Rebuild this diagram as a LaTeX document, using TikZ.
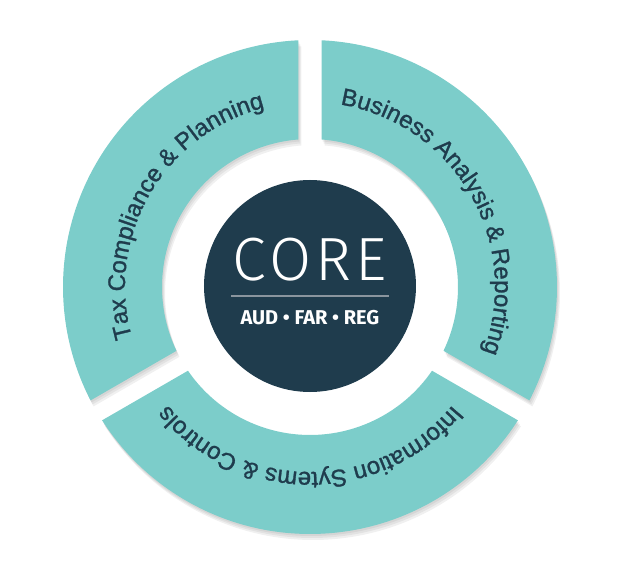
\documentclass[tikz,border=0pt]{standalone}
\usepackage{fontspec}
\setmainfont{Liberation Sans}
\newfontfamily\ringfont{Liberation Sans}[FakeBold=1.2]
\IfFontExistsTF{Fira Sans Light}
  {\newfontfamily\corefont{Fira Sans Light}[LetterSpace=7]}
  {\newfontfamily\corefont{Fira Sans}[LetterSpace=7]}
\newfontfamily\examfont{Fira Sans}
\usetikzlibrary{decorations.text}
\definecolor{ringteal}{HTML}{7CCDCA}
\definecolor{corenavy}{HTML}{1F3C4D}
\definecolor{rulegray}{HTML}{8A959E}
\tikzset{
  seg/.style={fill=ringteal},
  segshadow/.style={fill=black, opacity=.06},
  ringtext/.style={decorate, decoration={text along path, text align=center, text color=corenavy, text={|\ringfont\fontsize{24}{24}\selectfont|#1}}}
}
\begin{document}
\begin{tikzpicture}[x=1pt, y=1pt]
 \useasboundingbox (-310,-294) rectangle (328,287);
 % three ring segments, gaps at 90, 210 and 330 degrees
 \foreach \a/\b in {90/210, 210/330, -30/90}
 {
     \foreach \s in {2,4,6}
         \fill[segshadow, shift={(\s/2,-\s)}] (\a+2.67:247) arc[start angle=\a+2.67, end angle=\b-2.67, radius=247]
            -- (\b-4.46:148) arc[start angle=\b-4.46, end angle=\a+4.46, radius=148] -- cycle;
     \fill[seg] (\a+2.67:247) arc[start angle=\a+2.67, end angle=\b-2.67, radius=247]
        -- (\b-4.46:148) arc[start angle=\b-4.46, end angle=\a+4.46, radius=148] -- cycle;
 }
 \path[ringtext={Tax Compliance {\&} Planning}] (207:185) arc[start angle=207, end angle=93, radius=185];
 \path[ringtext={Business Analysis {\&} Reporting}] (87:185) arc[start angle=87, end angle=-27, radius=185];
 \path[ringtext={Information Sytems {\&} Controls}] (-33:185) arc[start angle=-33, end angle=-147, radius=185];
 % core circle
 \fill[corenavy] (0,1) circle[radius=106];
 \node[text=white, font=\corefont\fontsize{61}{61}\selectfont] (core) at (0,27) {CORE};
 \draw[rulegray, line width=1.2pt] (-79,-9) -- (79,-9);
 \node[text=white, font=\examfont\bfseries\fontsize{20}{20}\selectfont] (exams) at (0,-31) {AUD • FAR • REG};
\end{tikzpicture}
\end{document}
